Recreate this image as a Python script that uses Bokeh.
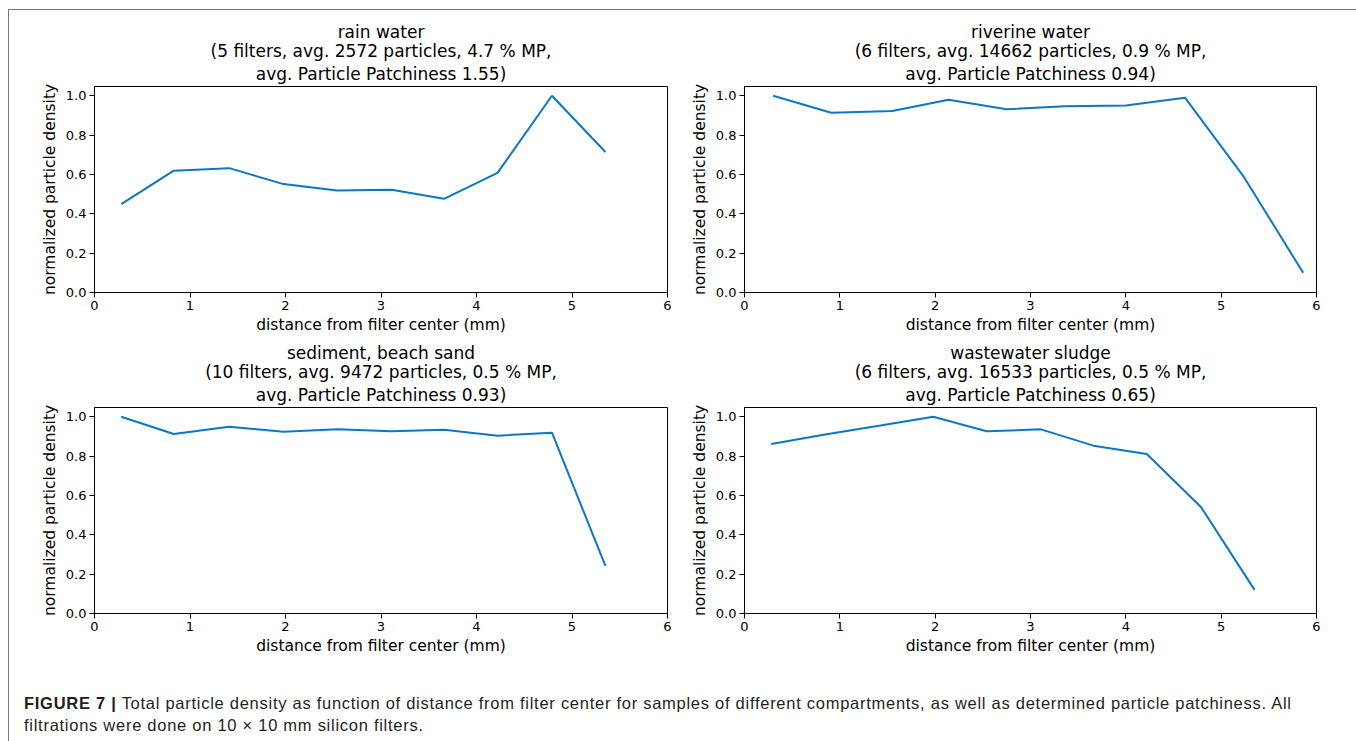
from bokeh.plotting import figure
from bokeh.layouts import row, column
from bokeh.models import Div, FixedTicker, PrintfTickFormatter, Title
from bokeh.embed import file_html
from bokeh.resources import INLINE

# ---------------- data ----------------
dist_a = [0.28, 0.83, 1.41, 1.98, 2.54, 3.11, 3.66, 4.22, 4.79, 5.35]
dist_b = [0.30, 0.91, 1.55, 2.14, 2.75, 3.36, 4.00, 4.62, 5.24, 5.86]

rain_water = [0.449, 0.619, 0.632, 0.551, 0.519, 0.522, 0.476, 0.608, 1.000, 0.714]
riverine_water = [1.000, 0.914, 0.922, 0.980, 0.931, 0.947, 0.951, 0.990, 0.586, 0.100]
sediment_sand = [1.000, 0.912, 0.949, 0.924, 0.936, 0.926, 0.934, 0.904, 0.919, 0.242]
wastewater_sludge = [0.861, 0.908, 0.954, 1.000, 0.926, 0.936, 0.853, 0.811, 0.540, 0.120]

titles = [
    ["rain water", "(5 filters, avg. 2572 particles, 4.7 % MP,", "avg. Particle Patchiness 1.55)"],
    ["riverine water", "(6 filters, avg. 14662 particles, 0.9 % MP,", "avg. Particle Patchiness 0.94)"],
    ["sediment, beach sand", "(10 filters, avg. 9472 particles, 0.5 % MP,", "avg. Particle Patchiness 0.93)"],
    ["wastewater sludge", "(6 filters, avg. 16533 particles, 0.5 % MP,", "avg. Particle Patchiness 0.65)"],
]
x_ticks = [0, 1, 2, 3, 4, 5, 6]
y_ticks = [0.0, 0.2, 0.4, 0.6, 0.8, 1.0]
x_label = "distance from filter center (mm)"
y_label = "normalized particle density"
caption_bold = "FIGURE 7 |"
caption_text = ("Total particle density as function of distance from filter center for samples of "
                "different compartments, as well as determined particle patchiness. All")
caption_text2 = "filtrations were done on 10 × 10 mm silicon filters."

FONT = "DejaVu Sans"
LINE_COLOR = "#0a78c2"


def make_panel(title_lines, xs, ys, left, right, top, bottom, fw):
    p = figure(frame_width=fw, frame_height=206, x_range=(0, 6), y_range=(0, 1.047),
               output_backend="svg", toolbar_location=None,
               min_border_left=left, min_border_right=right,
               min_border_top=top, min_border_bottom=bottom)
    p.title.visible = False
    for i, t in enumerate(reversed(title_lines)):
        p.add_layout(Title(text=t, align="center", text_font=FONT, text_font_size="17px",
                           text_font_style="normal", text_color="black",
                           text_line_height=0.88, standoff=5 if i == 0 else -3,
                           offset=0), "above")
    p.line(xs, ys, line_color=LINE_COLOR, line_width=2)
    p.grid.visible = False
    p.outline_line_color = "black"
    p.outline_line_width = 1
    p.outline_line_alpha = 1
    p.background_fill_color = "white"
    p.border_fill_color = "white"
    for ax in (p.xaxis[0], p.yaxis[0]):
        ax.major_tick_out = 5
        ax.major_tick_in = 0
        ax.minor_tick_out = 0
        ax.minor_tick_in = 0
        ax.major_label_text_font = FONT
        ax.major_label_text_font_size = "13px"
        ax.major_label_text_color = "black"
        ax.axis_label_text_font = FONT
        ax.axis_label_text_font_size = "15.5px"
        ax.axis_label_text_font_style = "normal"
        ax.axis_label_text_color = "black"
        ax.axis_line_color = "black"
        ax.major_tick_line_color = "black"
        ax.major_label_standoff = 3
    p.xaxis.ticker = FixedTicker(ticks=x_ticks)
    p.yaxis.ticker = FixedTicker(ticks=y_ticks)
    p.yaxis.formatter = PrintfTickFormatter(format="%.1f")
    p.xaxis.axis_label = x_label
    p.yaxis.axis_label = y_label
    p.xaxis.axis_label_standoff = 3
    p.yaxis.axis_label_standoff = 4
    return p


p1 = make_panel(titles[0], dist_a, rain_water, 85, 20, 76, 48, 573)
p2 = make_panel(titles[1], dist_b, riverine_water, 56, 36, 76, 48, 572)
p3 = make_panel(titles[2], dist_a, sediment_sand, 85, 20, 67, 50, 573)
p4 = make_panel(titles[3], dist_a, wastewater_sludge, 56, 36, 67, 50, 572)

cap = Div(text=f"<b>{caption_bold}</b> {caption_text}<br>{caption_text2}",
          width=1340, height=76,
          styles={"font-family": "Liberation Sans, Arial, sans-serif", "font-size": "16.5px",
                  "color": "#231f20", "line-height": "22px", "padding-left": "10px",
                  "padding-top": "24px", "white-space": "nowrap", "letter-spacing": "0.73px"})

layout = column(row(p1, p2, spacing=0), row(p3, p4, spacing=0), cap, spacing=0,
                styles={"border-top": "1.5px solid #7a7a7a", "border-left": "1.5px solid #7a7a7a",
                        "border-right": "1.5px solid #7a7a7a", "background": "white",
                        "margin-left": "8px", "margin-top": "9px"})

open("out.html", "w").write(file_html(layout, INLINE))
